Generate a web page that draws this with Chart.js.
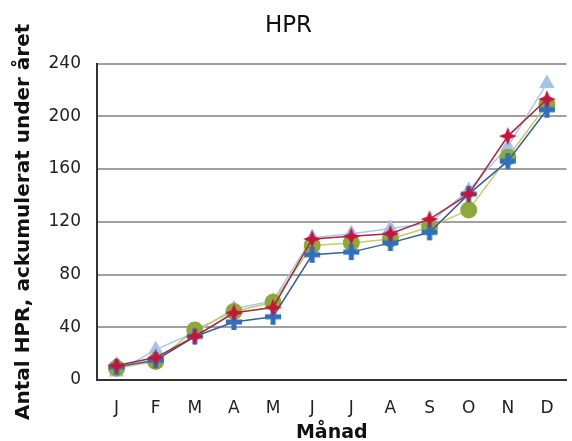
<!DOCTYPE html>
<html>
<head>
<meta charset="utf-8">
<script src="https://cdn.jsdelivr.net/npm/chart.js@4/dist/chart.umd.min.js"></script>
<style>
  html, body { margin: 0; padding: 0; background: #fff; overflow: hidden; }
  #wrap { width: 577px; height: 441px; }
</style>
</head>
<body>
<div id="wrap"><canvas id="c" width="577" height="441"></canvas></div>
<script>
// Months (Swedish initials)
const months = ['J', 'F', 'M', 'A', 'M', 'J', 'J', 'A', 'S', 'O', 'N', 'D'];
const yTicks = [0, 40, 80, 120, 160, 200, 240];
const yTitle = 'Antal HPR, ackumulerat under året';

// Accumulated HPR per month, four series
const seriesRed = [11, 17, 33, 51, 55, 107, 109, 111, 122, 141, 185, 213];
const seriesBlue = [10, 15, 33, 44, 48, 95, 97, 104, 112, 141, 166, 205];
const seriesGreen = [9, 14, 38, 52, 59, 102, 104, 107, 116, 129, 169, 209];
const seriesLightBlue = [6, 23, 36, 54, 60, 108, 111, 115, 119, 144, 177, 225];

// Filled four-pointed star marker
function starMarker(color, r) {
  const s = r * 2 + 2, c = document.createElement('canvas');
  c.width = s; c.height = s;
  const g = c.getContext('2d'), m = s / 2, inner = r * 0.4;
  g.beginPath();
  for (let i = 0; i < 8; i++) {
    const a = -Math.PI / 2 + i * Math.PI / 4;
    const rr = i % 2 === 0 ? r : inner;
    g.lineTo(m + rr * Math.cos(a), m + rr * Math.sin(a));
  }
  g.closePath();
  g.fillStyle = color; g.fill();
  return c;
}

// Filled thick plus marker
function plusMarker(color, r, w) {
  const s = r * 2 + 2, c = document.createElement('canvas');
  c.width = s; c.height = s;
  const g = c.getContext('2d'), m = s / 2;
  g.fillStyle = color;
  g.fillRect(m - w / 2, m - r, w, r * 2);
  g.fillRect(m - r, m - w / 2, r * 2, w);
  return c;
}

const font = "'DejaVu Sans', Verdana, sans-serif";

// Rotated y-axis title, centred on the plot height
const yTitlePlugin = {
  id: 'yTitle',
  afterDraw(chart) {
    const { ctx, chartArea } = chart;
    ctx.save();
    ctx.translate(24, (chartArea.top + chartArea.bottom) / 2);
    ctx.rotate(-Math.PI / 2);
    ctx.font = "bold 20px " + font;
    ctx.fillStyle = '#111';
    ctx.textAlign = 'center';
    ctx.textBaseline = 'middle';
    ctx.fillText(yTitle, 0, 0);
    ctx.restore();
  }
};

new Chart(document.getElementById('c'), {
  type: 'line',
  plugins: [yTitlePlugin],
  data: {
    labels: months,
    datasets: [
      {
        data: seriesRed, borderColor: '#a8283e', borderWidth: 1.5,
        pointStyle: starMarker('#c8143c', 9), pointRadius: 9,
        backgroundColor: '#c8143c'
      },
      {
        data: seriesBlue, borderColor: '#3a5f98', borderWidth: 1.5,
        pointStyle: plusMarker('#2f6fbd', 8, 5), pointRadius: 8,
        backgroundColor: '#2f6fbd'
      },
      {
        data: seriesGreen, borderColor: '#c2cf6a', borderWidth: 1.5,
        pointStyle: 'circle', pointRadius: 8.5, pointBorderWidth: 0,
        backgroundColor: '#8fa83a', pointBackgroundColor: '#8fa83a'
      },
      {
        data: seriesLightBlue, borderColor: '#a9c7ea', borderWidth: 1.5,
        pointStyle: 'triangle', pointRadius: 9, pointBorderWidth: 0,
        backgroundColor: '#a3c3ea', pointBackgroundColor: '#a3c3ea'
      }
    ]
  },
  options: {
    responsive: false,
    animation: false,
    events: [],
    layout: { padding: { left: 0, right: 0, top: 0, bottom: 0 } },
    plugins: {
      legend: { display: false },
      tooltip: { enabled: false },
      title: {
        display: true, text: 'HPR', color: '#111',
        font: { family: font, size: 23, weight: 'normal' },
        padding: { top: 12, bottom: 24 }
      }
    },
    scales: {
      x: {
        offset: true,
        grid: { display: false, drawTicks: false },
        border: { display: true, color: '#333', width: 2 },
        ticks: { color: '#222', font: { family: font, size: 17 }, padding: 18, maxRotation: 0, autoSkip: false },
        title: {
          display: true, text: 'Månad', color: '#111',
          font: { family: font, size: 19, weight: 'bold', lineHeight: 1 },
          padding: { top: 0, bottom: -2 }
        },
        afterFit: s => { s.height = 61; }
      },
      y: {
        min: 0, max: 240,
        afterBuildTicks: s => { s.ticks = yTicks.map(v => ({ value: v })); },
        grid: { color: '#a0a0a0', lineWidth: 2, drawTicks: false },
        border: { display: true, color: '#333', width: 2 },
        ticks: { color: '#222', font: { family: font, size: 17 }, padding: 16 },
        afterFit: s => { s.width = 97; }
      }
    }
  }
});
</script>
</body>
</html>
